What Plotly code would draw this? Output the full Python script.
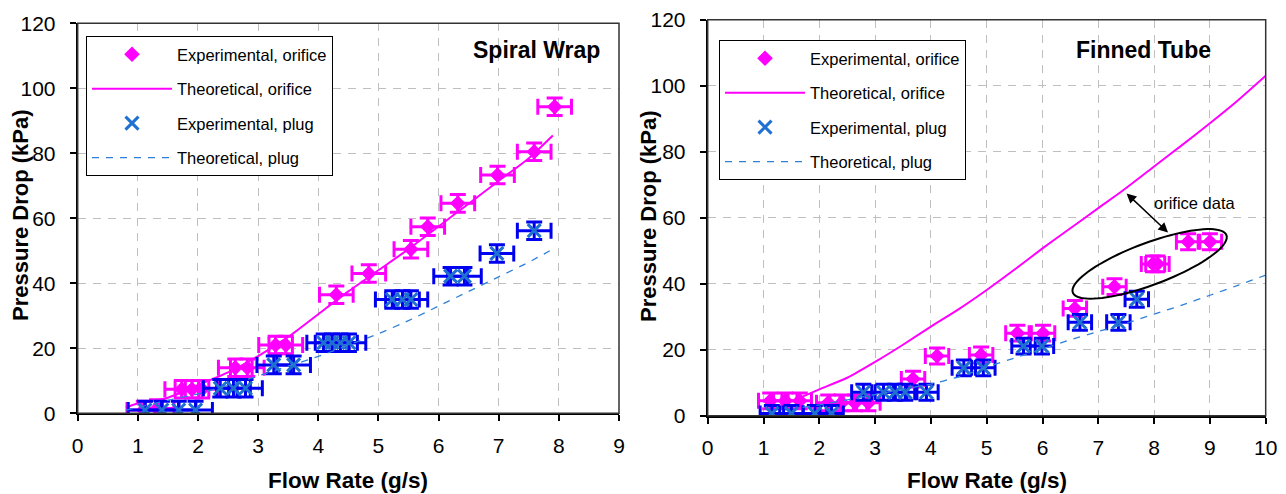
import numpy as np
import plotly.graph_objects as go

# The page body has an 8px margin; the figure is sized so that it fills the 1286x494 window.
OFF = 8
W, H = 1286 - OFF, 494 - OFF
FONT = "Liberation Sans, Arial, sans-serif"
MAG = "#FF00FF"
BLUE_ERR = "#0000F0"
BLUE_X = "#1F70D0"
BLUE_DASH = "#2F80D8"

# ---------------- Spiral Wrap (left) ----------------
sw_ori_x = [1.1, 1.32, 1.73, 1.9, 2.07, 2.62, 2.82, 3.29, 3.46, 4.3, 4.84, 5.54, 5.82, 6.32, 6.98, 7.59, 7.93]
sw_ori_y = [1.0, 1.5, 7.4, 7.4, 7.4, 14.0, 14.0, 21.0, 21.0, 36.5, 43.0, 50.5, 57.4, 64.6, 73.3, 80.5, 94.3]
sw_plug_x = [1.12, 1.4, 1.68, 1.96, 2.37, 2.59, 2.79, 3.26, 3.59, 4.09, 4.23, 4.37, 4.51, 5.23, 5.4, 5.54, 6.2, 6.43, 6.97, 7.59]
sw_plug_y = [1.0, 1.0, 1.0, 1.0, 7.7, 7.7, 7.7, 14.9, 14.9, 21.7, 21.7, 21.7, 21.7, 35.0, 35.0, 35.0, 42.2, 42.2, 49.2, 56.2]
sw_theo_ori_x = [0.8, 1.0, 1.5, 2.0, 2.5, 3.0, 3.5, 4.0, 4.5, 5.0, 5.5, 6.0, 6.5, 7.0, 7.5, 7.9]
sw_theo_ori_y = [1.8, 3.0, 4.8, 8.7, 12.6, 17.6, 23.5, 30.5, 37.5, 44.0, 50.5, 57.5, 64.5, 71.5, 78.5, 85.5]
sw_theo_plug_x = [0.8, 1.0, 1.5, 2.0, 2.5, 3.0, 3.5, 4.0, 4.5, 5.0, 5.5, 6.0, 6.5, 7.0, 7.5, 7.85]
sw_theo_plug_y = [1.0, 1.8, 4.0, 6.0, 8.6, 11.5, 14.5, 17.5, 21.0, 24.5, 28.5, 33.0, 37.5, 42.0, 46.5, 50.0]
sw_xerr = 0.28
sw_yerr = 2.7

# ---------------- Finned Tube (right) ----------------
ft_ori_x = [1.12, 1.39, 1.65, 2.16, 2.4, 2.64, 2.88, 3.68, 4.11, 4.9, 5.55, 6.01, 6.58, 7.29, 7.98, 8.06, 8.61, 9.0]
ft_ori_y = [4.5, 4.5, 4.5, 3.9, 3.9, 3.9, 3.9, 11.1, 18.1, 18.4, 25.0, 25.0, 32.5, 39.1, 46.0, 46.0, 52.7, 52.7]
ft_plug_x = [1.15, 1.5, 1.92, 2.22, 2.79, 3.15, 3.36, 3.54, 3.92, 4.59, 4.94, 5.66, 5.99, 6.67, 7.36, 7.69]
ft_plug_y = [0.7, 0.7, 0.7, 0.7, 7.1, 7.1, 7.1, 7.1, 7.1, 14.5, 14.5, 21.1, 21.1, 28.3, 28.3, 35.3]
ft_theo_ori_x = [1.7, 2.0, 2.5, 3.0, 3.5, 4.0, 4.5, 5.0, 5.5, 6.0, 6.5, 7.0, 7.5, 8.0, 8.5, 9.0, 9.5, 10.0]
ft_theo_ori_y = [5.8, 8.0, 11.5, 16.3, 21.5, 27.0, 32.3, 38.1, 44.3, 50.7, 56.8, 62.9, 69.0, 75.5, 82.0, 88.6, 95.5, 103.0]
ft_theo_plug_x = [1.7, 2.0, 2.5, 3.0, 3.5, 4.0, 4.5, 5.0, 5.5, 6.0, 6.5, 7.0, 7.5, 8.0, 8.5, 9.0, 9.5, 10.0]
ft_theo_plug_y = [2.5, 3.3, 4.8, 6.4, 8.0, 9.6, 11.8, 14.7, 17.5, 20.2, 23.0, 25.5, 28.0, 30.8, 33.5, 36.5, 39.5, 42.6]
ft_xerr = 0.21
ft_yerr = 2.4

names = ["Experimental, orifice", "Theoretical, orifice", "Experimental, plug", "Theoretical, plug"]


def fx(p):
    """window pixel x -> paper fraction"""
    return (p - OFF) / W


def fy(p):
    """window pixel y -> paper fraction"""
    return 1 - (p - OFF) / H


# pixel layout of plot areas (window pixels)
L_X0, L_X1, L_Y0, L_Y1 = 77.7, 619.0, 23.3, 413.3
R_X0, R_X1, R_Y0, R_Y1 = 707.7, 1265.7, 19.7, 415.7

fig = go.Figure()


def add_set(ox, oy, px_, py_, tox, toy, tpx, tpy, xe, ye, xa, ya, leg, suffix):
    fig.add_trace(go.Scatter(
        x=ox, y=oy, mode="markers", name=names[0], legend=leg, legendgroup="a" + suffix,
        xaxis=xa, yaxis=ya,
        marker=dict(symbol="diamond", size=12, color=MAG),
        error_x=dict(type="constant", value=xe, color=MAG, thickness=3, width=8),
        error_y=dict(type="constant", value=ye, color=MAG, thickness=3, width=8)))
    fig.add_trace(go.Scatter(
        x=tox, y=toy, mode="lines", name=names[1], legend=leg, legendgroup="b" + suffix,
        xaxis=xa, yaxis=ya, line=dict(color=MAG, width=2, shape="spline", smoothing=0.6)))
    fig.add_trace(go.Scatter(
        x=px_, y=py_, mode="markers", name=names[2], legend=leg, legendgroup="c" + suffix,
        xaxis=xa, yaxis=ya,
        marker=dict(symbol="x-thin", size=13, color=BLUE_X, line=dict(width=3, color=BLUE_X)),
        error_x=dict(type="constant", value=xe, color=BLUE_ERR, thickness=3, width=8),
        error_y=dict(type="constant", value=ye, color=BLUE_ERR, thickness=3, width=8)))
    fig.add_trace(go.Scatter(
        x=tpx, y=tpy, mode="lines", name=names[3], legend=leg, legendgroup="d" + suffix,
        xaxis=xa, yaxis=ya, line=dict(color=BLUE_DASH, width=1.3, dash="7px,7px", shape="spline", smoothing=0.6)))


add_set(sw_ori_x, sw_ori_y, sw_plug_x, sw_plug_y, sw_theo_ori_x, sw_theo_ori_y,
        sw_theo_plug_x, sw_theo_plug_y, sw_xerr, sw_yerr, "x", "y", "legend", "1")
add_set(ft_ori_x, ft_ori_y, ft_plug_x, ft_plug_y, ft_theo_ori_x, ft_theo_ori_y,
        ft_theo_plug_x, ft_theo_plug_y, ft_xerr, ft_yerr, "x2", "y2", "legend2", "2")

axis_common = dict(
    showline=True, linecolor="black", linewidth=2, ticks="outside", ticklen=6, tickwidth=1.5,
    tickcolor="black", tickfont=dict(size=21, family=FONT, color="black"),
    showgrid=True, gridcolor="#BFBFBF", gridwidth=1.3, griddash="8px,7px",
    zeroline=False, automargin=False, fixedrange=True)

legend_common = dict(xanchor="left", yanchor="top", bgcolor="white",
                     bordercolor="black", borderwidth=1, tracegroupgap=10, itemwidth=80,
                     font=dict(size=16.5, family=FONT, color="black"))

fig.update_layout(
    width=W, height=H, margin=dict(l=0, r=0, t=0, b=0),
    paper_bgcolor="white", plot_bgcolor="white",
    font=dict(family=FONT, color="black"),
    xaxis=dict(domain=[fx(L_X0), fx(L_X1)], range=[0, 9], dtick=1, anchor="y",
               ticklabelstandoff=6, **axis_common),
    yaxis=dict(domain=[fy(L_Y1), fy(L_Y0)], range=[0, 120], dtick=20, anchor="x",
               ticklabelstandoff=10, **axis_common),
    xaxis2=dict(domain=[fx(R_X0), fx(R_X1)], range=[0, 10], dtick=1, anchor="y2",
                ticklabelstandoff=6, **axis_common),
    yaxis2=dict(domain=[fy(R_Y1), fy(R_Y0)], range=[0, 120], dtick=20, anchor="x2",
                ticklabelstandoff=10, **axis_common),
    legend=dict(x=fx(86), y=fy(36), **legend_common),
    legend2=dict(x=fx(719), y=fy(40), **legend_common),
    showlegend=True,
)

# plot-area borders (top / right)
for xr, yr in (("x domain", "y domain"), ("x2 domain", "y2 domain")):
    fig.add_shape(type="rect", xref=xr, yref=yr, x0=0, x1=1, y0=0, y1=1,
                  line=dict(color="#333333", width=1.5), layer="above")

# ellipse around orifice data (right chart)
sx = (R_X1 - R_X0) / 10.0
sy = (R_Y1 - R_Y0) / 120.0
cx, cy = 7.92, 46.0
a_px, b_px, th = 82.0, 21.0, np.deg2rad(20.5)
t = np.linspace(0, 2 * np.pi, 90)
dx = a_px * np.cos(t) * np.cos(th) - b_px * np.sin(t) * np.sin(th)
dy = a_px * np.cos(t) * np.sin(th) + b_px * np.sin(t) * np.cos(th)
ex = cx + dx / sx
ey = cy + dy / sy
path = "M " + " L ".join(f"{u:.4f},{v:.4f}" for u, v in zip(ex, ey)) + " Z"
fig.add_shape(type="path", path=path, xref="x2", yref="y2", line=dict(color="black", width=2))

# double arrow + label
fig.add_annotation(x=8.25, y=55.5, ax=7.48, ay=67.8, xref="x2", yref="y2", axref="x2", ayref="y2",
                   showarrow=True, arrowhead=2, startarrowhead=2, arrowside="end+start",
                   arrowsize=1.3, startarrowsize=1.3, arrowwidth=1.5, arrowcolor="black", text="")
fig.add_annotation(x=8.73, y=64.4, xref="x2", yref="y2", text="orifice data", showarrow=False,
                   xanchor="center", yanchor="middle",
                   font=dict(size=16.5, family=FONT, color="black"))

# chart titles
for xc, txt in ((536, "<b>Spiral Wrap</b>"), (1143, "<b>Finned Tube</b>")):
    fig.add_annotation(x=fx(xc), y=fy(50), xref="paper", yref="paper", text=txt,
                       xanchor="center", yanchor="middle", showarrow=False,
                       font=dict(size=23, family=FONT, color="black"))

# axis titles
for xc in (348, 987):
    fig.add_annotation(x=fx(xc), y=fy(480), xref="paper", yref="paper", text="<b>Flow Rate (g/s)</b>",
                       xanchor="center", yanchor="middle", showarrow=False,
                       font=dict(size=22.5, family=FONT, color="black"))
for xc, yc in ((20, 215), (648, 216)):
    fig.add_annotation(x=fx(xc), y=fy(yc), xref="paper", yref="paper", text="<b>Pressure Drop (kPa)</b>",
                       xanchor="center", yanchor="middle", textangle=-90, showarrow=False,
                       font=dict(size=22, family=FONT, color="black"))

fig.write_html("out.html")
